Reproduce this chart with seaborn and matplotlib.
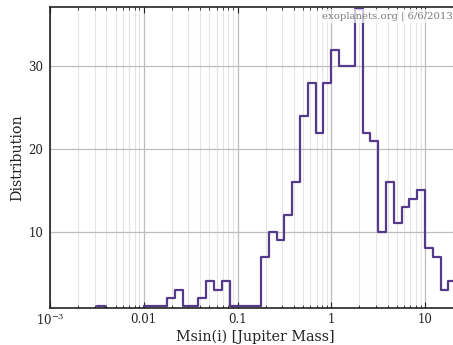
import numpy as np
import pandas as pd
import matplotlib
matplotlib.use("Agg")
import matplotlib.pyplot as plt
import seaborn as sns

# Histogram of minimum planet mass: 12 logarithmic bins per decade.
# Bin index k covers log10(M) in [k/12, (k+1)/12).
bin_index = [-30, -29, -28, -27, -26, -25,
             -24, -23, -22, -21, -20, -19, -18, -17, -16, -15, -14,
             -13, -12, -11, -10, -9, -8, -7, -6, -5, -4, -3, -2, -1,
             0, 1, 2, 3, 4, 5, 6, 7, 8, 9, 10, 11, 12, 13, 14, 15]
counts = [1, 0, 0, 0, 0, 0,
          1, 1, 1, 2, 3, 1, 1, 2, 4, 3, 4,
          1, 1, 1, 1, 7, 10, 9, 12, 16, 24, 28, 22, 28,
          32, 30, 30, 37, 22, 21, 10, 16, 11, 13, 14, 15, 8, 7, 3, 4]
bins_per_decade = 12

xtick_values = [1e-3, 1e-2, 1e-1, 1, 10]
xtick_labels = [r"$10^{-3}$", "0.01", "0.1", "1", "10"]
ytick_values = [10, 20, 30]

sns.set_theme(style="white")
plt.rcParams["font.family"] = ["DejaVu Serif"]
plt.rcParams["mathtext.fontset"] = "dejavuserif"

k = np.asarray(bin_index)
log_edges = (np.append(k, k[-1] + 1) / bins_per_decade).tolist()
df = pd.DataFrame({
    "mass": 10 ** ((k + 0.5) / bins_per_decade),
    "count": counts,
})

fig = plt.figure(figsize=(4.53, 3.45), dpi=100)
ax = fig.add_axes([0.1104, 0.106, 0.905, 0.875])

sns.histplot(data=df, x="mass", weights="count", bins=log_edges,
             log_scale=True, element="step", fill=False,
             color="#553a8c", linewidth=1.6, ax=ax)

ax.set_xlim(1e-3, 23.6)
ax.set_ylim(0.72, 37.25)
ax.set_xticks(xtick_values)
ax.set_xticklabels(xtick_labels)
ax.set_yticks(ytick_values)

ax.grid(True, which="major", axis="both", color="#bdbdbd", linewidth=0.9)
ax.grid(True, which="minor", axis="x", color="#e4e4e4", linewidth=0.8)
ax.set_axisbelow(True)

ax.tick_params(axis="x", which="both", direction="in", top=True, bottom=True,
               labelsize=8.5, colors="#222222", pad=3)
ax.tick_params(axis="x", which="major", length=4, width=0.8)
ax.tick_params(axis="x", which="minor", length=2.5, width=0.6)
ax.tick_params(axis="y", which="major", direction="out", length=3, width=0.8,
               labelsize=8.5, colors="#222222", pad=2)

for side in ["left", "bottom", "top"]:
    ax.spines[side].set_color("#222222")
    ax.spines[side].set_linewidth(1.2)
ax.spines["right"].set_visible(False)

ax.set_xlabel("Msin(i) [Jupiter Mass]", fontsize=10.3, color="#222222", labelpad=1)
ax.set_ylabel("Distribution", fontsize=10.3, color="#222222", labelpad=2.5)

ax.text(0.663, 0.985, "exoplanets.org | 6/6/2013", transform=ax.transAxes,
        ha="left", va="top", fontsize=7.3, color="#7a7a7a", zorder=10,
        bbox=dict(facecolor="white", edgecolor="none", alpha=0.7, pad=1.5))

fig.savefig("out.png", dpi=100)
